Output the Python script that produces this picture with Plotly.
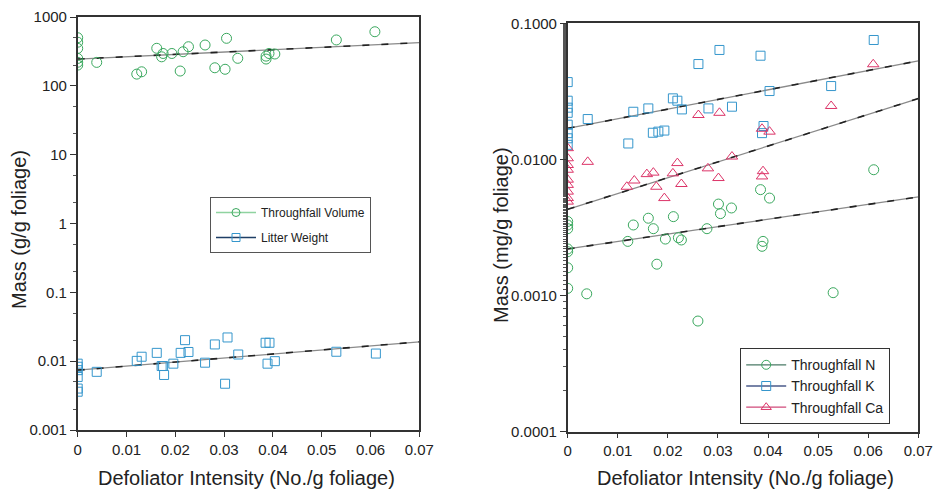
import plotly.graph_objects as go

# ---------------- data ----------------
vol_x = [0, 0, 0, 0, 0, 0, 0.0039, 0.0121, 0.0131, 0.0162, 0.0172, 0.0175, 0.0193, 0.0210,
         0.0216, 0.0227, 0.0261, 0.0281, 0.0302, 0.0305, 0.0328, 0.0386, 0.0386, 0.0392,
         0.0404, 0.0530, 0.0609]
vol_y = [500, 430, 350, 250, 220, 200, 219, 148, 160, 351, 264, 295, 295, 164,
         313, 370, 392, 183, 174, 490, 251, 270, 245, 295,
         290, 464, 611]

lit_x = [0, 0, 0, 0, 0, 0, 0.0039, 0.0121, 0.0131, 0.0162, 0.0172, 0.0175, 0.0177, 0.0196,
         0.0211, 0.0220, 0.0227, 0.0261, 0.0281, 0.0302, 0.0307, 0.0329, 0.0385, 0.0393,
         0.0389, 0.0404, 0.0530, 0.0611]
lit_y = [0.0092, 0.0083, 0.0074, 0.0059, 0.0040, 0.0036, 0.0070, 0.0101, 0.0116, 0.0132,
         0.0085, 0.0085, 0.0063, 0.0092, 0.0132, 0.0202, 0.0136, 0.0095, 0.0175, 0.0047,
         0.0221, 0.0125, 0.0185, 0.0185, 0.0092, 0.0100, 0.0137, 0.0129]

n_x = [0, 0, 0, 0, 0, 0, 0, 0.0038, 0.0120, 0.0131, 0.0161, 0.0171, 0.0178, 0.0195, 0.0211,
       0.0221, 0.0227, 0.0260, 0.0278, 0.0301, 0.0305, 0.0327, 0.0385, 0.0388, 0.0390,
       0.0403, 0.0530, 0.0611]
n_y = [0.0035, 0.0033, 0.0031, 0.0022, 0.0021, 0.0016, 0.00113, 0.00103, 0.0025, 0.0033,
       0.0037, 0.0031, 0.0017, 0.0026, 0.0038, 0.00266, 0.00256, 0.00065, 0.0031, 0.0047,
       0.0040, 0.0044, 0.0060, 0.0023, 0.0025, 0.0052, 0.00105, 0.0084]

k_x = [0, 0, 0, 0, 0, 0, 0, 0, 0.0040, 0.0121, 0.0131, 0.0161, 0.0170, 0.0181, 0.0193,
       0.0210, 0.0219, 0.0228, 0.0261, 0.0281, 0.0303, 0.0328, 0.0385, 0.0391, 0.0388,
       0.0403, 0.0526, 0.0611]
k_y = [0.037, 0.027, 0.024, 0.022, 0.018, 0.0156, 0.0143, 0.0128, 0.0198, 0.0131, 0.0224,
       0.0237, 0.0157, 0.0160, 0.0163, 0.0281, 0.0270, 0.0233, 0.0502, 0.0237, 0.0637,
       0.0244, 0.0578, 0.0176, 0.0156, 0.0318, 0.0346, 0.0754]

ca_x = [0, 0, 0, 0, 0, 0, 0, 0, 0, 0.0040, 0.0118, 0.0133, 0.0158, 0.0171, 0.0177, 0.0193,
        0.0210, 0.0219, 0.0227, 0.0261, 0.0280, 0.0301, 0.0303, 0.0328, 0.0388, 0.0390,
        0.0388, 0.0403, 0.0526, 0.0610]
ca_y = [0.0121, 0.0102, 0.0091, 0.0084, 0.0071, 0.0065, 0.0058, 0.0052, 0.0049, 0.0096,
        0.0063, 0.0070, 0.0078, 0.0080, 0.0063, 0.0052, 0.0079, 0.0094, 0.0066, 0.0212,
        0.0086, 0.0073, 0.0220, 0.0105, 0.0168, 0.0082, 0.0075, 0.0160, 0.0247, 0.0500]

# regression lines (end values)
fit_x = [0, 0.07]
vol_fit = [245, 424]
lit_fit = [0.0074, 0.0191]
k_fit = [0.0169, 0.053]
ca_fit = [0.0043, 0.028]
n_fit = [0.0022, 0.0053]

x_ticks = [0, 0.01, 0.02, 0.03, 0.04, 0.05, 0.06, 0.07]
x_ticklabels = ["0", "0.01", "0.02", "0.03", "0.04", "0.05", "0.06", "0.07"]
left_yticks = [0.001, 0.01, 0.1, 1, 10, 100, 1000]
left_yticklabels = ["0.001", "0.01", "0.1", "1", "10", "100", "1000"]
right_yticks = [0.0001, 0.001, 0.01, 0.1]
right_yticklabels = ["0.0001", "0.0010", "0.0100", "0.1000"]

# ---------------- style ----------------
FONT = "Liberation Sans, Arial, Helvetica, sans-serif"
GREEN = "#3aa85e"
BLUE = "#3596cc"
PINK = "#dc3468"
W, H = 934, 492

fig = go.Figure()


def add_fit(xs, ys, xa, ya):
    fig.add_trace(go.Scatter(x=xs, y=ys, mode="lines", xaxis=xa, yaxis=ya,
                             line=dict(color="#8a8a8a", width=1.3),
                             showlegend=False, hoverinfo="skip"))
    fig.add_trace(go.Scatter(x=xs, y=ys, mode="lines", xaxis=xa, yaxis=ya,
                             line=dict(color="#222222", width=1.6, dash="7px,12px"),
                             showlegend=False, hoverinfo="skip"))


def add_pts(xs, ys, xa, ya, sym, col, size=10):
    fig.add_trace(go.Scatter(x=xs, y=ys, mode="markers", xaxis=xa, yaxis=ya,
                             marker=dict(symbol=sym, size=size, color=col,
                                         line=dict(width=1, color=col)),
                             showlegend=False))


def add_leg(name, sym, mcol, lcol, legend, size):
    fig.add_trace(go.Scatter(x=[None], y=[None], mode="lines+markers", name=name,
                             legend=legend, legendgroup=name,
                             marker=dict(symbol=sym, size=size, color=mcol,
                                         line=dict(width=1, color=mcol)),
                             line=dict(color=lcol, width=1.3)))


# left panel
add_fit(fit_x, vol_fit, "x", "y")
add_fit(fit_x, lit_fit, "x", "y")
add_pts(vol_x, vol_y, "x", "y", "circle-open", GREEN)
add_pts(lit_x, lit_y, "x", "y", "square-open", BLUE, 9)

# right panel
add_fit(fit_x, k_fit, "x2", "y2")
add_fit(fit_x, ca_fit, "x2", "y2")
add_fit(fit_x, n_fit, "x2", "y2")
add_pts(n_x, n_y, "x2", "y2", "circle-open", GREEN)
add_pts(k_x, k_y, "x2", "y2", "square-open", BLUE, 9)
add_pts(ca_x, ca_y, "x2", "y2", "triangle-up-open", PINK, 10)

# legend entries
add_leg("Throughfall Volume", "circle-open", GREEN, "#8fd3a0", "legend", 8)
add_leg("Litter Weight", "square-open", BLUE, "#1f3f66", "legend", 8)
add_leg("Throughfall N", "circle-open", GREEN, "#4a7a66", "legend2", 9)
add_leg("Throughfall K", "square-open", BLUE, "#4a5a8a", "legend2", 9)
add_leg("Throughfall Ca", "triangle-up-open", PINK, "#d04a7a", "legend2", 9)

tickfont = dict(family=FONT, size=15, color="#222")
common_x = dict(range=[0, 0.07], tickvals=x_ticks, ticktext=x_ticklabels,
                ticks="outside", ticklen=5, tickcolor="#333", tickfont=tickfont,
                showgrid=False, zeroline=False, showline=True, linecolor="#333",
                linewidth=1.5, mirror=True, fixedrange=True, automargin=False)
common_y = dict(type="log", ticks="outside", ticklen=6, tickcolor="#333",
                tickfont=tickfont, showgrid=False, zeroline=False, showline=True,
                linecolor="#333", linewidth=1.5, mirror=True, automargin=False,
                minor=dict(ticks="outside", ticklen=3, tickcolor="#555", showgrid=False))

ann_font = dict(family=FONT, size=20, color="#222")

fig.update_layout(
    width=W, height=H,
    margin=dict(l=0, r=0, t=0, b=0, autoexpand=False),
    paper_bgcolor="white", plot_bgcolor="white",
    font=dict(family=FONT, color="#222"),
    xaxis=dict(domain=[77.7 / W, 419.3 / W], anchor="y", **common_x),
    yaxis=dict(domain=[(H - 430) / H, (H - 17) / H], anchor="x",
               range=[-3, 3], tickvals=left_yticks, ticktext=left_yticklabels,
               **common_y),
    xaxis2=dict(domain=[567.7 / W, 918.3 / W], anchor="y2", **common_x),
    yaxis2=dict(domain=[(H - 431.7) / H, (H - 23.3) / H], anchor="x2",
                range=[-4, -1], tickvals=right_yticks, ticktext=right_yticklabels,
                **common_y),
    legend=dict(x=210 / W, y=(H - 197) / H, xanchor="left", yanchor="top",
                bgcolor="white", bordercolor="#555", borderwidth=1,
                font=dict(family=FONT, size=12, color="#222"),
                traceorder="grouped", tracegroupgap=6,
                itemwidth=40),
    legend2=dict(x=740 / W, y=(H - 348) / H, xanchor="left", yanchor="top",
                 bgcolor="white", bordercolor="#333", borderwidth=1.2,
                 font=dict(family=FONT, size=14, color="#222"),
                 traceorder="normal",
                 itemwidth=40),
    annotations=[
        dict(text="Mass (g/g foliage)", x=19 / W, y=(H - 230) / H, xref="paper",
             yref="paper", textangle=-90, showarrow=False, xanchor="center",
             yanchor="middle", font=ann_font),
        dict(text="Mass (mg/g foliage)", x=501 / W, y=(H - 235) / H, xref="paper",
             yref="paper", textangle=-90, showarrow=False, xanchor="center",
             yanchor="middle", font=ann_font),
        dict(text="Defoliator Intensity (No./g foliage)", x=246 / W, y=(H - 478) / H,
             xref="paper", yref="paper", showarrow=False, xanchor="center",
             yanchor="middle", font=ann_font),
        dict(text="Defoliator Intensity (No./g foliage)", x=745 / W, y=(H - 478) / H,
             xref="paper", yref="paper", showarrow=False, xanchor="center",
             yanchor="middle", font=ann_font),
    ],
)

fig.write_html("out.html",
               config={"displayModeBar": False},
               post_script="document.body.style.margin='0px';"
                           "document.body.style.overflow='hidden';")
